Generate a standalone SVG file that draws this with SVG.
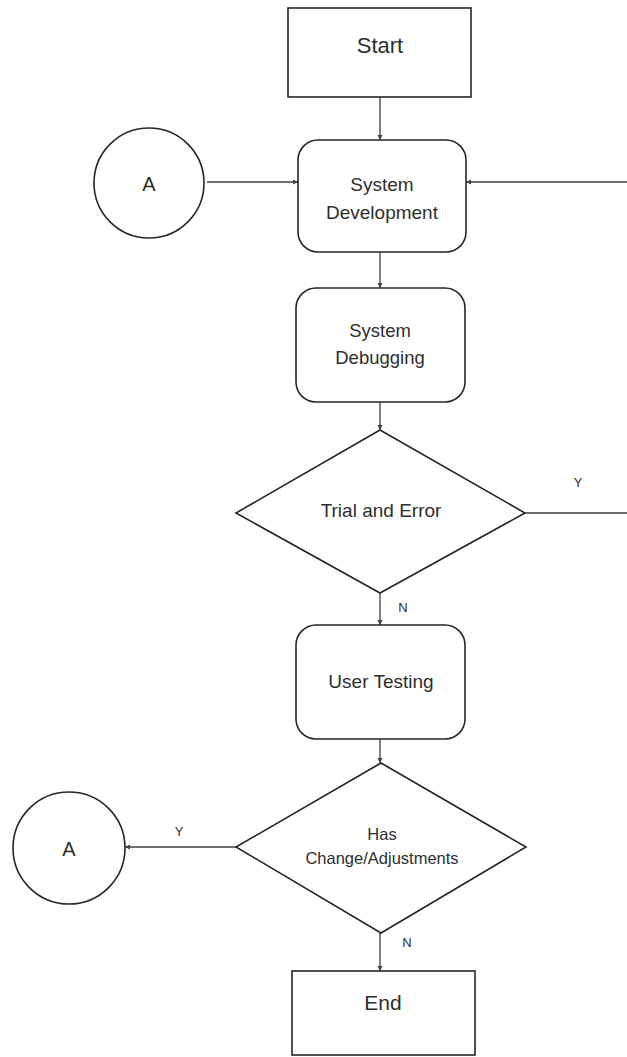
<svg xmlns="http://www.w3.org/2000/svg" width="627" height="1057" viewBox="0 0 627 1057">
<style>
.shape{fill:#ffffff;stroke:#262626;stroke-width:1.6}
.conn{fill:none;stroke:#404040;stroke-width:1.3}
text{font-family:"Liberation Sans",Arial,sans-serif;fill:#2e2e2e;text-anchor:middle}
.lbl{font-size:13px}
</style>
<defs>
<marker id="arr" markerUnits="userSpaceOnUse" markerWidth="6" markerHeight="6" refX="5" refY="2.5" orient="auto">
<path d="M0,0 L5,2.5 L0,5 Z" fill="#404040"/>
</marker>
</defs>
<rect width="627" height="1057" fill="#ffffff"/>
<g id="connectors">
<path class="conn" d="M380,97 V140" marker-end="url(#arr)"/>
<path class="conn" d="M207,182 H298" marker-end="url(#arr)"/>
<path class="conn" d="M525,513 H640 V182 H466" marker-end="url(#arr)"/>
<path class="conn" d="M380,252 V288" marker-end="url(#arr)"/>
<path class="conn" d="M380,402 V430" marker-end="url(#arr)"/>
<path class="conn" d="M380,593 V625" marker-end="url(#arr)"/>
<path class="conn" d="M380,739 V763" marker-end="url(#arr)"/>
<path class="conn" d="M236,847 H125" marker-end="url(#arr)"/>
<path class="conn" d="M380,933 V971" marker-end="url(#arr)"/>
<text class="lbl" x="578" y="487">Y</text>
<text class="lbl" x="403" y="612">N</text>
<text class="lbl" x="179" y="836">Y</text>
<text class="lbl" x="407" y="947">N</text>
</g>
<g id="start">
<rect class="shape" x="288" y="8" width="183" height="89"/>
<text x="380" y="53" font-size="22">Start</text>
</g>
<g id="connectorA1">
<circle class="shape" cx="149" cy="183" r="55"/>
<text x="149" y="191" font-size="20">A</text>
</g>
<g id="sysdev">
<rect class="shape" x="298" y="140" width="168" height="112" rx="20" ry="20"/>
<text x="382" y="191" font-size="19">System</text>
<text x="382" y="219" font-size="19">Development</text>
</g>
<g id="sysdebug">
<rect class="shape" x="296" y="288" width="169" height="114" rx="20" ry="20"/>
<text x="380" y="337" font-size="18.5">System</text>
<text x="380" y="364" font-size="18.5">Debugging</text>
</g>
<g id="trial">
<polygon class="shape" points="380,430 525,513 380,593 236,513"/>
<text x="381" y="517" font-size="19">Trial and Error</text>
</g>
<g id="usertest">
<rect class="shape" x="296" y="625" width="169" height="114" rx="20" ry="20"/>
<text x="381" y="688" font-size="19">User Testing</text>
</g>
<g id="haschange">
<polygon class="shape" points="381,763 526,847 381,933 236,847"/>
<text x="382" y="840" font-size="16.5">Has</text>
<text x="382" y="864" font-size="16.5">Change/Adjustments</text>
</g>
<g id="connectorA2">
<circle class="shape" cx="69" cy="848" r="56"/>
<text x="69" y="856" font-size="20">A</text>
</g>
<g id="end">
<rect class="shape" x="292" y="971" width="183" height="84"/>
<text x="383" y="1010" font-size="21">End</text>
</g>
</svg>
